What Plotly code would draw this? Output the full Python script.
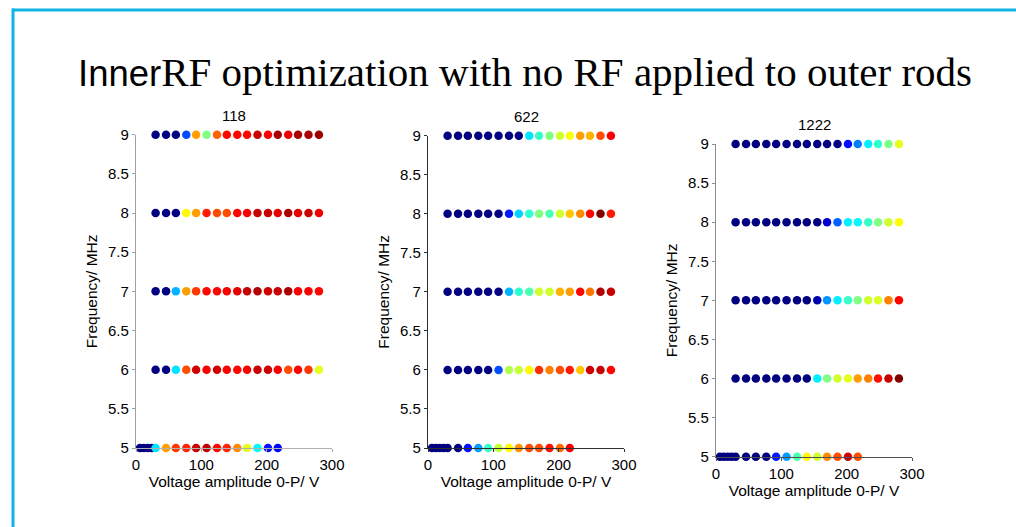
import plotly.graph_objects as go

# ---------------- data ----------------
panel_names = ["118", "622", "1222"]
freq_rows = [9, 8, 7, 6]
voltage_main = [30, 46, 61, 77, 92, 108, 124, 139, 155, 170, 186, 202, 217, 233, 248, 264, 280]
voltage_low = [6, 12, 18, 24, 30, 46, 61, 77, 92, 108, 124, 139, 155, 170, 186, 202, 217]

# colour level (0 = dark blue ... 1 = dark red) read from each dot
p118_f9 = [0.0, 0.0, 0.0, 0.2, 0.72, 0.5, 0.78, 0.87, 0.87, 0.87, 0.93, 0.88, 0.96, 0.9, 0.96, 0.96, 0.97]
p118_f8 = [0.0, 0.0, 0.0, 0.63, 0.72, 0.85, 0.8, 0.8, 0.87, 0.88, 0.93, 0.93, 0.9, 0.96, 0.9, 0.93, 0.89]
p118_f7 = [0.0, 0.0, 0.3, 0.72, 0.82, 0.87, 0.87, 0.88, 0.9, 0.93, 0.95, 0.92, 0.93, 0.96, 0.88, 0.88, 0.87]
p118_f6 = [0.0, 0.0, 0.35, 0.8, 0.92, 0.88, 0.92, 0.88, 0.87, 0.88, 0.93, 0.92, 0.88, 0.8, 0.87, 0.82, 0.6]
p118_f5 = [0.0, 0.0, 0.0, 0.0, 0.35, 0.72, 0.82, 0.84, 0.93, 0.94, 0.87, 0.84, 0.74, 0.6, 0.37, 0.14, 0.13]

p622_f9 = [0.0, 0.0, 0.0, 0.0, 0.0, 0.0, 0.0, 0.0, 0.35, 0.43, 0.5, 0.58, 0.62, 0.72, 0.7, 0.8, 0.88]
p622_f8 = [0.0, 0.0, 0.0, 0.0, 0.0, 0.0, 0.15, 0.33, 0.42, 0.5, 0.45, 0.58, 0.68, 0.74, 0.87, 1.0, 0.85]
p622_f7 = [0.0, 0.0, 0.0, 0.0, 0.0, 0.0, 0.3, 0.42, 0.45, 0.58, 0.58, 0.7, 0.72, 0.87, 0.76, 0.95, 0.93]
p622_f6 = [0.0, 0.0, 0.0, 0.0, 0.0, 0.2, 0.55, 0.57, 0.63, 0.83, 0.75, 0.8, 0.85, 0.68, 0.92, 0.93, 0.87]
p622_f5 = [0.0, 0.0, 0.0, 0.0, 0.0, 0.0, 0.14, 0.28, 0.43, 0.57, 0.63, 0.73, 0.8, 0.8, 0.86, 0.77, 0.88]

p1222_f9 = [0.0, 0.0, 0.0, 0.0, 0.0, 0.0, 0.0, 0.0, 0.0, 0.0, 0.0, 0.14, 0.25, 0.36, 0.42, 0.5, 0.6]
p1222_f8 = [0.0, 0.0, 0.0, 0.0, 0.0, 0.0, 0.0, 0.0, 0.0, 0.08, 0.22, 0.36, 0.37, 0.43, 0.5, 0.58, 0.62]
p1222_f7 = [0.0, 0.0, 0.0, 0.0, 0.0, 0.0, 0.0, 0.0, 0.05, 0.27, 0.36, 0.43, 0.5, 0.58, 0.59, 0.75, 0.87]
p1222_f6 = [0.0, 0.0, 0.0, 0.0, 0.0, 0.0, 0.0, 0.0, 0.36, 0.5, 0.58, 0.6, 0.72, 0.75, 0.86, 0.93, 1.0]
p1222_f5 = [0.0, 0.0, 0.0, 0.0, 0.0, 0.0, 0.0, 0.0, 0.15, 0.28, 0.45, 0.63, 0.58, 0.74, 0.8, 0.92, 0.8]

x_ticks = [0, 100, 200, 300]
y_ticks = [5, 5.5, 6, 6.5, 7, 7.5, 8, 8.5, 9]
y_ticklabels = ["5", "5.5", "6", "6.5", "7", "7.5", "8", "8.5", "9"]

panel_levels = [
    [p118_f9, p118_f8, p118_f7, p118_f6, p118_f5],
    [p622_f9, p622_f8, p622_f7, p622_f6, p622_f5],
    [p1222_f9, p1222_f8, p1222_f7, p1222_f6, p1222_f5],
]

# ---------------- style ----------------
W, H = 1016, 527
jet = [[0.0, "#000080"], [0.125, "#0000FF"], [0.375, "#00FFFF"],
       [0.625, "#FFFF00"], [0.875, "#FF0000"], [1.0, "#800000"]]
# pixel boxes: (x0, x300, y9, y5)
boxes = [(136, 332, 134.7, 448), (428, 624, 135.7, 448), (716, 912, 144, 456.7)]
ycol = ["#a0a0a0", "#303030", "#909090"]
xcol = ["#b0b0b0", "#303030", "#505050"]
sans = "Liberation Sans, Arial, sans-serif"

fig = go.Figure()
layout = dict(width=W, height=H, margin=dict(l=0, r=0, t=0, b=0, pad=0),
              autosize=False,
              paper_bgcolor="white", plot_bgcolor="white", showlegend=False)
annotations = []
for i, (name, levels) in enumerate(zip(panel_names, panel_levels)):
    sfx = "" if i == 0 else str(i + 1)
    xs, ys, cs = [], [], []
    for f, lv in zip(freq_rows, levels[:4]):
        xs += voltage_main
        ys += [f] * len(voltage_main)
        cs += lv
    xs += voltage_low
    ys += [5] * len(voltage_low)
    cs += levels[4]
    fig.add_trace(go.Scatter(
        x=xs, y=ys, mode="markers", xaxis="x" + sfx, yaxis="y" + sfx,
        cliponaxis=False,
        marker=dict(size=8.5, color=cs, colorscale=jet, cmin=0, cmax=1,
                    line=dict(width=0)),
        hoverinfo="skip"))
    x0, x1, y9, y5 = boxes[i]
    layout["xaxis" + sfx] = dict(
        domain=[x0 / W, x1 / W], range=[0, 300], anchor="y" + sfx,
        automargin=False,
        tickvals=x_ticks, ticks="outside", ticklen=3, tickcolor=xcol[i],
        showline=True, linecolor=xcol[i], linewidth=1.2, showgrid=False,
        zeroline=False, tickfont=dict(family=sans, size=15, color="black"),
        title=dict(text="Voltage amplitude 0-P/ V", standoff=2,
                   font=dict(family=sans, size=15.5, color="black")))
    layout["yaxis" + sfx] = dict(
        domain=[1 - y5 / H, 1 - y9 / H], range=[5, 9], anchor="x" + sfx,
        automargin=False,
        tickvals=y_ticks, ticktext=y_ticklabels, ticks="outside", ticklen=3,
        tickcolor=ycol[i], showline=True, linecolor=ycol[i], linewidth=1.2,
        showgrid=False, zeroline=False,
        tickfont=dict(family=sans, size=15, color="black"),
        title=dict(text="Frequency/ MHz", standoff=6,
                   font=dict(family=sans, size=15.5, color="black")))
    annotations.append(dict(
        text=name, xref="paper", yref="paper", x=(x0 + x1) / 2 / W,
        y=1 - (y9 - 9) / H, xanchor="center", yanchor="bottom",
        showarrow=False, font=dict(family=sans, size=15, color="black")))

annotations.append(dict(
    text='<span style="font-family:Liberation Sans, Arial, sans-serif;font-size:36.5px">Inner</span>'
         'RF optimization with no RF applied to outer rods',
    xref="paper", yref="paper", x=76 / W, y=1 - 97 / H, xanchor="left",
    yanchor="bottom", showarrow=False,
    font=dict(family="Liberation Serif, Times New Roman, serif", size=41,
              color="black")))
layout["annotations"] = annotations
layout["shapes"] = [
    dict(type="line", xref="paper", yref="paper", x0=12 / W, x1=1.0,
         y0=1 - 10 / H, y1=1 - 10 / H, line=dict(color="#10B4E4", width=3)),
    dict(type="line", xref="paper", yref="paper", x0=13 / W, x1=13 / W,
         y0=0, y1=1 - 8.5 / H, line=dict(color="#10B4E4", width=3)),
]
fig.update_layout(**layout)
fig.write_html("out.html",
               post_script="document.body.style.margin='0';"
                           "document.body.style.overflow='hidden';")
